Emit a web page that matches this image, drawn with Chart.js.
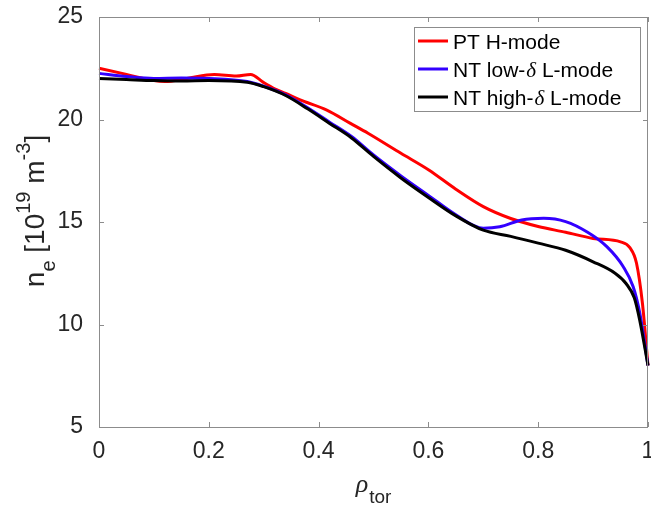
<!DOCTYPE html>
<html>
<head>
<meta charset="utf-8">
<script src="https://cdn.jsdelivr.net/npm/chart.js@4.4.1/dist/chart.umd.min.js"></script>
<style>
  html, body { margin: 0; padding: 0; background: #fff; }
  #wrap { width: 651px; height: 509px; }
</style>
</head>
<body>
<div id="wrap"><canvas id="myChart"></canvas></div>
<script>
// PT H-mode
var rhoPT = [0, 0.05, 0.1, 0.12, 0.16, 0.21, 0.25, 0.276, 0.3, 0.32, 0.34, 0.37, 0.415, 0.458, 0.49, 0.55, 0.6, 0.65, 0.7, 0.75, 0.8, 0.85, 0.9, 0.95, 0.967, 0.979, 0.99, 1];
var nePT = [22.5, 22.2, 21.9, 21.85, 22.0, 22.2, 22.12, 22.2, 21.8, 21.5, 21.27, 20.92, 20.46, 19.81, 19.33, 18.35, 17.55, 16.6, 15.75, 15.17, 14.78, 14.5, 14.2, 14.03, 13.75, 13.0, 11.0, 8.0];
// NT low-delta L-mode
var rhoLow = [0, 0.05, 0.1, 0.15, 0.2, 0.27, 0.3, 0.34, 0.38, 0.42, 0.46, 0.5, 0.55, 0.6, 0.65, 0.7, 0.73, 0.77, 0.81, 0.85, 0.89, 0.925, 0.955, 0.973, 0.985, 1];
var neLow = [22.25, 22.1, 22.0, 22.02, 22.0, 21.85, 21.62, 21.2, 20.57, 19.87, 19.17, 18.27, 17.25, 16.3, 15.35, 14.7, 14.77, 15.1, 15.18, 15.02, 14.5, 13.8, 12.82, 11.84, 10.56, 8.0];
// NT high-delta L-mode
var rhoHigh = [0, 0.05, 0.1, 0.15, 0.2, 0.27, 0.3, 0.34, 0.38, 0.42, 0.46, 0.5, 0.55, 0.6, 0.65, 0.7, 0.75, 0.8, 0.85, 0.9, 0.94, 0.96, 0.975, 0.985, 1];
var neHigh = [22.0, 21.95, 21.9, 21.88, 21.9, 21.82, 21.6, 21.17, 20.52, 19.81, 19.1, 18.2, 17.15, 16.2, 15.3, 14.6, 14.3, 13.97, 13.62, 13.06, 12.5, 12.0, 11.3, 10.2, 8.0];

var xTickValues = [0, 0.2, 0.4, 0.6, 0.8, 1];
var xTickLabels = ['0', '0.2', '0.4', '0.6', '0.8', '1'];
var yTickValues = [5, 10, 15, 20, 25];
var yTickLabels = ['5', '10', '15', '20', '25'];

var seriesNames = ['PT H-mode', 'NT low-', 'NT high-'];
var seriesColors = ['#ff0000', '#3300ff', '#000000'];

var SANS = '"Liberation Sans", Arial, Helvetica, sans-serif';
var SERIF = '"Liberation Serif", "DejaVu Serif", serif';
var TEXT = '#262626';

function points(xs, ys) {
    return xs.map(function (x, i) { return { x: x, y: ys[i] }; });
}

// box round the plot with inward ticks, matlab style
const axisBox = {
    id: 'axisBox',
    afterDatasetsDraw(chart) {
        const { ctx, chartArea: a, scales } = chart;
        ctx.save();
        ctx.strokeStyle = '#8c8c8c';
        ctx.lineWidth = 1;
        ctx.strokeRect(a.left + 0.5, a.top + 0.5, a.right - a.left - 1, a.bottom - a.top);
        ctx.beginPath();
        const tl = 5;
        xTickValues.forEach(function (v) {
            const px = Math.round(scales.x.getPixelForValue(v)) + 0.5;
            ctx.moveTo(px, a.bottom); ctx.lineTo(px, a.bottom - tl);
            ctx.moveTo(px, a.top); ctx.lineTo(px, a.top + tl);
        });
        yTickValues.forEach(function (v) {
            const py = Math.round(scales.y.getPixelForValue(v)) + 0.5;
            ctx.moveTo(a.left, py); ctx.lineTo(a.left + tl, py);
            ctx.moveTo(a.right, py); ctx.lineTo(a.right - tl, py);
        });
        ctx.stroke();
        ctx.restore();
    }
};

// legend and axis titles (sub/superscripts)
const texts = {
    id: 'texts',
    afterDraw(chart) {
        const { ctx, chartArea: a } = chart;
        ctx.save();

        // legend
        const lx = 414, ly = 27, lw = 226, lh = 84;
        ctx.fillStyle = '#fff';
        ctx.fillRect(lx, ly, lw, lh);
        ctx.strokeStyle = '#8c8c8c';
        ctx.lineWidth = 1;
        ctx.strokeRect(lx + 0.5, ly + 0.5, lw, lh);
        ctx.textBaseline = 'alphabetic';
        seriesNames.forEach(function (name, i) {
            const cy = 41 + i * 28;
            ctx.strokeStyle = seriesColors[i];
            ctx.lineWidth = 3;
            ctx.beginPath();
            ctx.moveTo(418, cy); ctx.lineTo(448, cy);
            ctx.stroke();
            ctx.fillStyle = '#000';
            ctx.font = '21px ' + SANS;
            let x = 453;
            const base = cy + 7.5;
            ctx.fillText(name, x, base);
            if (i > 0) {
                x += ctx.measureText(name).width;
                ctx.font = 'italic 21px ' + SERIF;
                ctx.fillText('\u03b4', x + 1, base);
                x += ctx.measureText('\u03b4').width + 1;
                ctx.font = '21px ' + SANS;
                ctx.fillText(' L-mode', x, base);
            }
        });

        // x title: rho_tor
        ctx.fillStyle = TEXT;
        const rhoFont = 'italic 26px ' + SERIF, subFont = '19px ' + SANS;
        ctx.font = rhoFont;
        const wr = ctx.measureText('\u03c1').width;
        ctx.font = subFont;
        const wt = ctx.measureText('tor').width;
        let sx = (a.left + a.right) / 2 - (wr + wt + 1) / 2;
        ctx.font = rhoFont;
        ctx.fillText('\u03c1', sx, 492);
        ctx.font = subFont;
        ctx.fillText('tor', sx + wr + 1, 503);

        // y title: n_e [10^19 m^-3]
        const parts = [
            { t: 'n', f: '28px ', dy: 0 },
            { t: 'e', f: '20px ', dy: 11 },
            { t: ' [10', f: '28px ', dy: 0 },
            { t: '19', f: '20px ', dy: -14 },
            { t: ' m', f: '28px ', dy: 0 },
            { t: '-3', f: '20px ', dy: -14 },
            { t: ']', f: '28px ', dy: 0 }
        ];
        let total = 0;
        parts.forEach(function (p) { ctx.font = p.f + SANS; p.w = ctx.measureText(p.t).width; total += p.w; });
        ctx.translate(44, 211);
        ctx.rotate(-Math.PI / 2);
        let px = -total / 2;
        parts.forEach(function (p) {
            ctx.font = p.f + SANS;
            ctx.fillText(p.t, px, p.dy);
            px += p.w;
        });
        ctx.restore();
    }
};

new Chart('myChart', {
    type: 'line',
    data: {
        datasets: [
            { label: 'PT H-mode', data: points(rhoPT, nePT), borderColor: seriesColors[0], order: 2 },
            { label: 'NT low-\u03b4 L-mode', data: points(rhoLow, neLow), borderColor: seriesColors[1], order: 1 },
            { label: 'NT high-\u03b4 L-mode', data: points(rhoHigh, neHigh), borderColor: seriesColors[2], order: 0 }
        ]
    },
    options: {
        responsive: true,
        maintainAspectRatio: false,
        animation: false,
        layout: { padding: { left: 0, right: 3, top: 17, bottom: 0 } },
        elements: {
            line: { borderWidth: 3, cubicInterpolationMode: 'monotone', fill: false },
            point: { radius: 0, hoverRadius: 0 }
        },
        datasets: { line: { clip: 2 } },
        plugins: {
            legend: { display: false },
            tooltip: { enabled: false }
        },
        scales: {
            x: {
                type: 'linear',
                min: 0,
                max: 1,
                grid: { display: false },
                border: { display: false },
                afterBuildTicks: function (s) { s.ticks = xTickValues.map(function (v) { return { value: v }; }); },
                afterFit: function (s) { s.height = 82; s.paddingLeft = 0; s.paddingRight = 0; },
                ticks: {
                    maxRotation: 0,
                    padding: 3,
                    color: TEXT,
                    font: { size: 23, family: SANS },
                    callback: function (v, i) { return xTickLabels[i]; }
                }
            },
            y: {
                min: 5,
                max: 25,
                grid: { display: false },
                border: { display: false },
                afterBuildTicks: function (s) { s.ticks = yTickValues.map(function (v) { return { value: v }; }); },
                afterFit: function (s) { s.width = 99; s.paddingTop = 0; s.paddingBottom = 0; },
                ticks: {
                    padding: 8,
                    color: TEXT,
                    font: { size: 23, family: SANS },
                    callback: function (v, i) { return yTickLabels[i]; }
                }
            }
        }
    },
    plugins: [axisBox, texts]
});
</script>
</body>
</html>
